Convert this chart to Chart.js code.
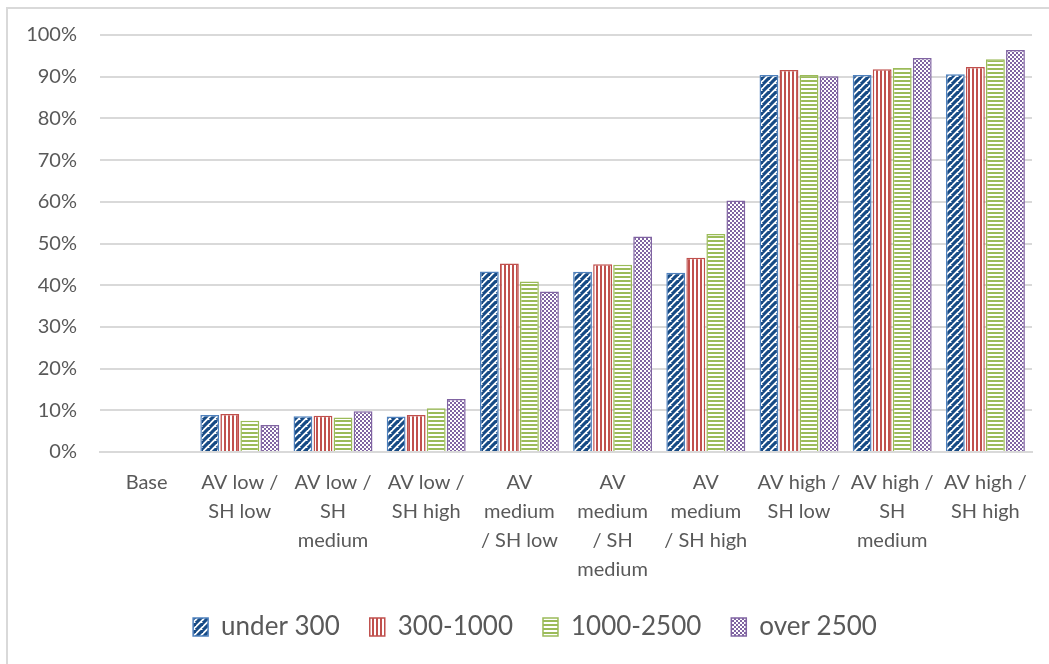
<!DOCTYPE html>
<html>
<head>
<meta charset="utf-8">
<script src="https://cdn.jsdelivr.net/npm/chart.js@4.4.1/dist/chart.umd.min.js"></script>
<style>
  html, body { margin: 0; padding: 0; background: #fff; }
  .frame {
    position: absolute; left: 6px; top: 7px; width: 1100px; height: 700px;
    border-left: 2px solid #d9d9d9; border-top: 2px solid #d9d9d9;
  }
  #chart { position: absolute; left: 0; top: 0; }
</style>
</head>
<body>
<div class="frame"></div>
<canvas id="chart" width="1049" height="664"></canvas>
<script>
// Data
const categories = [
  ["Base"],
  ["AV low /", "SH low"],
  ["AV low /", "SH", "medium"],
  ["AV low /", "SH high"],
  ["AV", "medium", "/ SH low"],
  ["AV", "medium", "/ SH", "medium"],
  ["AV", "medium", "/ SH high"],
  ["AV high /", "SH low"],
  ["AV high /", "SH", "medium"],
  ["AV high /", "SH high"]
];
const seriesNames = ["under 300", "300-1000", "1000-2500", "over 2500"];
const under300 = [null, 8.9, 8.6, 8.5, 43.3, 43.2, 43.0, 90.4, 90.4, 90.6];
const from300to1000 = [null, 9.1, 8.7, 8.9, 45.2, 45.0, 46.6, 91.6, 91.8, 92.3];
const from1000to2500 = [null, 7.5, 8.3, 10.5, 40.9, 44.9, 52.3, 90.4, 92.1, 94.2];
const over2500 = [null, 6.5, 9.8, 12.7, 38.5, 51.7, 60.3, 90.1, 94.5, 96.4];
const yTicks = [0, 10, 20, 30, 40, 50, 60, 70, 80, 90, 100];

// Pattern helpers
function makeTile(w, h, draw) {
  const c = document.createElement("canvas");
  c.width = w;
  c.height = h;
  const g = c.getContext("2d");
  g.fillStyle = "#fff";
  g.fillRect(0, 0, w, h);
  draw(g);
  return document.getElementById("chart").getContext("2d").createPattern(c, "repeat");
}

// wide navy diagonal stripes
const bluePattern = makeTile(7, 7, (g) => {
  g.strokeStyle = "#164a85";
  g.lineWidth = 3.2;
  for (let k = -7; k <= 14; k += 7) {
    g.beginPath();
    g.moveTo(k - 7, 7);
    g.lineTo(k + 7, -7);
    g.stroke();
  }
});

const redPattern = makeTile(4, 4, (g) => {
  g.fillStyle = "#c0504d";
  g.fillRect(0, 0, 2, 4);
});

const greenPattern = makeTile(4, 4, (g) => {
  g.fillStyle = "#9bbb59";
  g.fillRect(0, 0, 4, 2);
});

const purplePattern = makeTile(4, 4, (g) => {
  g.fillStyle = "#8064a2";
  g.fillRect(0, 0, 2, 2);
  g.fillRect(2, 2, 2, 2);
});

const fills = [bluePattern, redPattern, greenPattern, purplePattern];
const borders = ["#4f81bd", "#c0504d", "#9bbb59", "#8064a2"];
const seriesData = [under300, from300to1000, from1000to2500, over2500];

const FONT = "Lato, 'Open Sans', sans-serif";

// nudge the legend to where the original sits
const legendNudge = {
  id: "legendNudge",
  afterLayout(chart) {
    const lg = chart.legend;
    if (!lg) return;
    lg.top -= 14;
    lg.bottom -= 14;
    lg.left += 19;
    lg.right += 19;
  },
};

new Chart(document.getElementById("chart"), {
  type: "bar",
  data: {
    labels: categories,
    datasets: seriesNames.map((name, i) => ({
      label: name,
      data: seriesData[i],
      backgroundColor: fills[i],
      borderColor: borders[i],
      borderWidth: 1.5,
      categoryPercentage: 0.86,
      barPercentage: 0.94,
    })),
  },
  plugins: [legendNudge],
  options: {
    responsive: false,
    animation: false,
    layout: { padding: { left: 0, right: 17, top: 28, bottom: 0 } },
    plugins: {
      tooltip: { enabled: false },
      legend: {
        position: "bottom",
        labels: {
          boxWidth: 15,
          boxHeight: 18,
          padding: 30,
          color: "#595959",
          font: { family: FONT, size: 26 },
        },
      },
    },
    scales: {
      x: {
        grid: { display: false, drawTicks: false },
        border: { display: true, color: "#d9d9d9", width: 2 },
        ticks: {
          color: "#595959",
          padding: 16,
          maxRotation: 0,
          autoSkip: false,
          font: { family: FONT, size: 20, lineHeight: 1.45 },
        },
        afterFit: (scale) => { scale.height = 146; },
      },
      y: {
        min: 0,
        max: 100,
        afterBuildTicks: (scale) => {
          scale.ticks = yTicks.map((v) => ({ value: v }));
        },
        grid: { color: "#d9d9d9", lineWidth: 2, drawTicks: false },
        border: { display: false },
        ticks: {
          color: "#595959",
          padding: 23,
          font: { family: FONT, size: 20 },
          callback: (v) => v + "%",
        },
        afterFit: (scale) => { scale.width = 100; },
      },
    },
  },
});
</script>
</body>
</html>
